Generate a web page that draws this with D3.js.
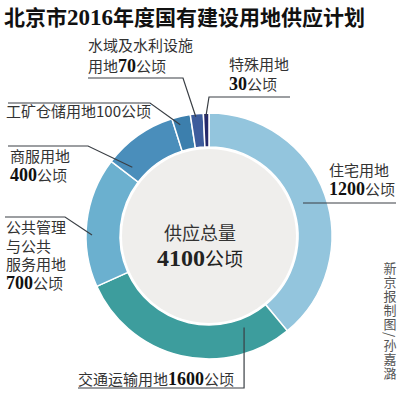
<!DOCTYPE html>
<html>
<head>
<meta charset="utf-8">
<script src="https://cdn.jsdelivr.net/npm/d3@7"></script>
<style>
  body { margin: 0; background: #fff; }
  svg { display: block; }
  text { font-family: "Noto Sans CJK SC", "Noto Sans", sans-serif; }
  .num { font-family: "Liberation Serif", "DejaVu Serif", serif; font-weight: bold; }
</style>
</head>
<body>
<div id="chart"></div>
<script>
// Land use categories and planned supply (hectares), as printed on the labels
var categories = ["住宅用地", "交通运输用地", "公共管理与公共服务用地", "商服用地", "工矿仓储用地", "水域及水利设施用地", "特殊用地"];
var values = [1200, 1600, 700, 400, 100, 70, 30];
// share each ring segment takes in the printed graphic (first two are swapped there)
var ringShare = [1600, 1200, 700, 400, 100, 70, 30];
var colors = ["#93c5dd", "#3d9d9d", "#6bb0cf", "#4a8ebb", "#3c7fad", "#3d5c9c", "#25296a"];
var total = 4100;

var width = 400, height = 394;
var cx = 209, cy = 236;
var outerR = 123, innerR = 89;

var svg = d3.select("#chart").append("svg")
  .attr("width", width)
  .attr("height", height);

// Title
var title = svg.append("text")
  .attr("x", 4)
  .attr("y", 25)
  .attr("font-size", 21)
  .attr("font-weight", "bold")
  .attr("fill", "#111");
title.append("tspan").text("北京市");
title.append("tspan").attr("class", "num").attr("font-size", 23).text("2016");
title.append("tspan").text("年度国有建设用地供应计划");

var ring = svg.append("g")
  .attr("transform", `translate(${cx}, ${cy})`);

// light grey centre
ring.append("circle")
  .attr("r", innerR - 2)
  .attr("fill", "#efeeec");

var pie = d3.pie()
  .sort(null)
  .value(d => d);

var arc = d3.arc()
  .innerRadius(innerR)
  .outerRadius(outerR);

var arcs = pie(ringShare);

ring.selectAll("path")
  .data(arcs)
  .enter()
  .append("path")
  .attr("d", arc)
  .attr("fill", (d, i) => colors[i])
  .attr("stroke", "#fff")
  .attr("stroke-width", 1.5);

// point on the ring at a fraction of a slice and a radius
function polar(i, frac, r) {
  var a = arcs[i].startAngle + (arcs[i].endAngle - arcs[i].startAngle) * frac;
  return [cx + r * Math.sin(a), cy - r * Math.cos(a)];
}

var line = d3.line();
function leader(pts) {
  svg.append("path")
    .attr("d", line(pts))
    .attr("fill", "none")
    .attr("stroke", "#3a3f45")
    .attr("stroke-width", 1.2);
}

// multi-line label: text lines, then a line holding prefix + bold number + 公顷
function label(x, y, lines, prefix, num, lh) {
  var t = svg.append("text")
    .attr("x", x)
    .attr("y", y)
    .attr("font-size", 15)
    .attr("fill", "#333");
  lines.forEach(function(s, i) {
    t.append("tspan").attr("x", x).attr("dy", i === 0 ? 0 : lh).text(s);
  });
  var dy = lines.length ? lh : 0;
  if (prefix) {
    t.append("tspan").attr("x", x).attr("dy", dy).text(prefix);
    t.append("tspan").attr("class", "num").attr("font-size", 18).attr("fill", "#111").text(num);
  } else {
    t.append("tspan").attr("x", x).attr("dy", dy)
      .attr("class", "num").attr("font-size", 18).attr("fill", "#111").text(num);
  }
  t.append("tspan").text("公顷");
  return t;
}

// 住宅用地
label(329, 176, ["住宅用地"], "", values[0], 19);
leader([[303, 203], [396, 203]]);

// 交通运输用地
label(78, 385, [], "交通运输用地", values[1], 0);
var jt = polar(1, 0.176, 98);
leader([[78, 388], [jt[0], 388], jt]);

// 公共管理与公共服务用地
label(6, 233, ["公共管理", "与公共", "服务用地"], "", values[2], 18.7);
leader([[5, 217], [65, 217], polar(2, 0.4, 117)]);

// 商服用地
label(10, 162, ["商服用地"], "", values[3], 19);
leader([[8, 146], [88, 146], polar(3, 0.13, 103)]);

// 工矿仓储用地
svg.append("text")
  .attr("x", 6)
  .attr("y", 117)
  .attr("font-size", 15)
  .attr("fill", "#333")
  .text("工矿仓储用地" + values[4] + "公顷");
leader([[8, 103], [150, 103], polar(4, 0.35, 115)]);

// 水域及水利设施用地
label(88, 51, ["水域及水利设施"], "用地", values[5], 21);
leader([[88, 78], [183, 78], polar(5, 0.4, 120)]);

// 特殊用地
label(229, 70, ["特殊用地"], "", values[6], 20);
leader([[290, 97], [209, 97], polar(6, 0.45, 120)]);

// centre total
var tot = svg.append("text")
  .attr("x", 200)
  .attr("y", 240)
  .attr("text-anchor", "middle")
  .attr("font-size", 18)
  .attr("fill", "#333");
tot.append("tspan").attr("x", 200).text("供应总量");
tot.append("tspan").attr("x", 200).attr("dy", 26).attr("class", "num").attr("font-size", 24).attr("fill", "#222").text(total);
tot.append("tspan").attr("font-size", 19).attr("fill", "#222").text("公顷");

// vertical credit
svg.append("text")
  .attr("x", 390)
  .attr("y", 262)
  .style("writing-mode", "vertical-rl")
  .attr("letter-spacing", 1)
  .attr("font-size", 13)
  .attr("fill", "#555")
  .text("新京报制图/孙嘉潞");
</script>
</body>
</html>
